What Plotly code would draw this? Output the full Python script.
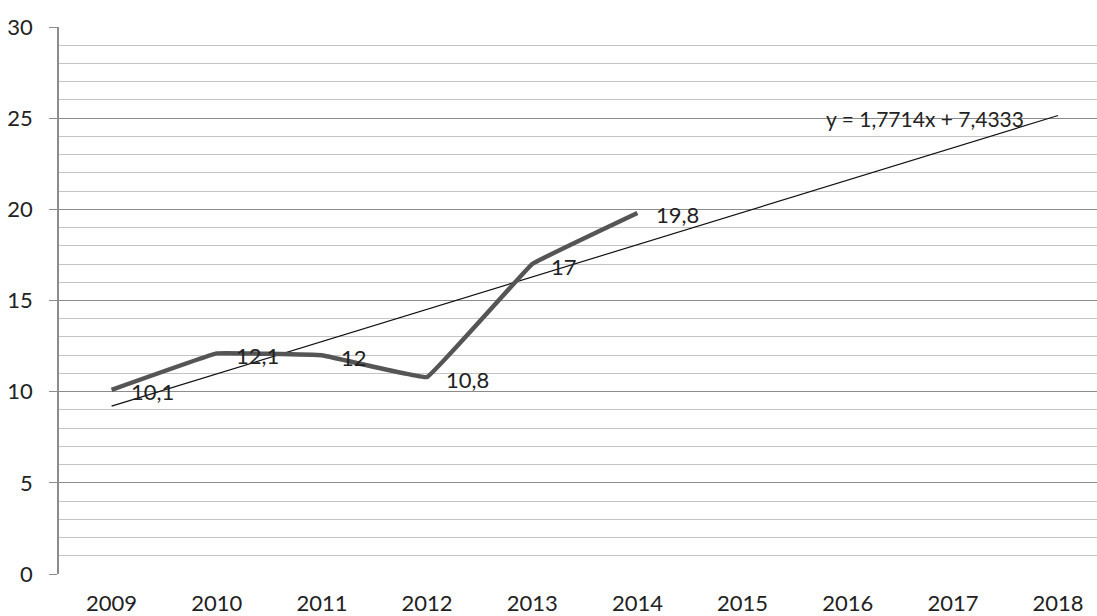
import plotly.graph_objects as go

years = ["2009", "2010", "2011", "2012", "2013", "2014", "2015", "2016", "2017", "2018"]
values = [10.1, 12.1, 12, 10.8, 17, 19.8]
value_labels = ["10,1", "12,1", "12", "10,8", "17", "19,8"]
slope = 1.7714
intercept = 7.4333
trend_label = "y = 1,7714x + 7,4333"

trend_x = [years[0], years[-1]]
trend_y = [slope * 1 + intercept, slope * len(years) + intercept]

font_fam = "Lato, 'Open Sans', sans-serif"
FS = 22

fig = go.Figure()

fig.add_trace(go.Scatter(
    x=trend_x, y=trend_y, mode="lines",
    line=dict(color="#111111", width=1.2),
    hoverinfo="skip", showlegend=False,
))
fig.add_trace(go.Scatter(
    x=years[:len(values)], y=values, mode="lines",
    line=dict(color="#555555", width=4.5, shape="spline", smoothing=0.15),
    showlegend=False,
))

for i, (yv, lab) in enumerate(zip(values, value_labels)):
    fig.add_annotation(
        x=i, y=yv, xref="x", yref="y", text=lab, showarrow=False,
        xanchor="left", yanchor="middle", xshift=17, yshift=-2,
        font=dict(family=font_fam, size=FS, color="#222222"),
    )

fig.add_annotation(
    x=7.73, y=25, xref="x", yref="y", text=trend_label, showarrow=False,
    xanchor="center", yanchor="middle", yshift=0,
    font=dict(family=font_fam, size=FS - 1, color="#222222"),
)

fig.update_layout(
    width=1097, height=616,
    margin=dict(l=59, r=0, t=27, b=42),
    paper_bgcolor="white", plot_bgcolor="white",
    font=dict(family=font_fam, size=FS, color="#222222"),
)
fig.update_xaxes(
    type="category", categoryorder="array", categoryarray=years,
    range=[-0.5, 9.37], showgrid=False, zeroline=False,
    showline=False, ticks="", tickfont=dict(size=FS, color="#222222"),
    ticklabelstandoff=14,
)
fig.update_yaxes(
    range=[0, 30], tickmode="linear", tick0=0, dtick=5,
    showgrid=True, gridcolor="#8c8c8c", gridwidth=1.3,
    minor=dict(dtick=1, showgrid=True, gridcolor="#c4c4c4", gridwidth=1.2),
    zeroline=False, showline=True, linecolor="#8c8c8c", linewidth=1.5,
    ticks="outside", ticklen=8, tickcolor="#8c8c8c", tickwidth=1.3,
    tickfont=dict(size=FS, color="#222222"), ticklabelstandoff=12,
)

fig.write_html("out.html")
